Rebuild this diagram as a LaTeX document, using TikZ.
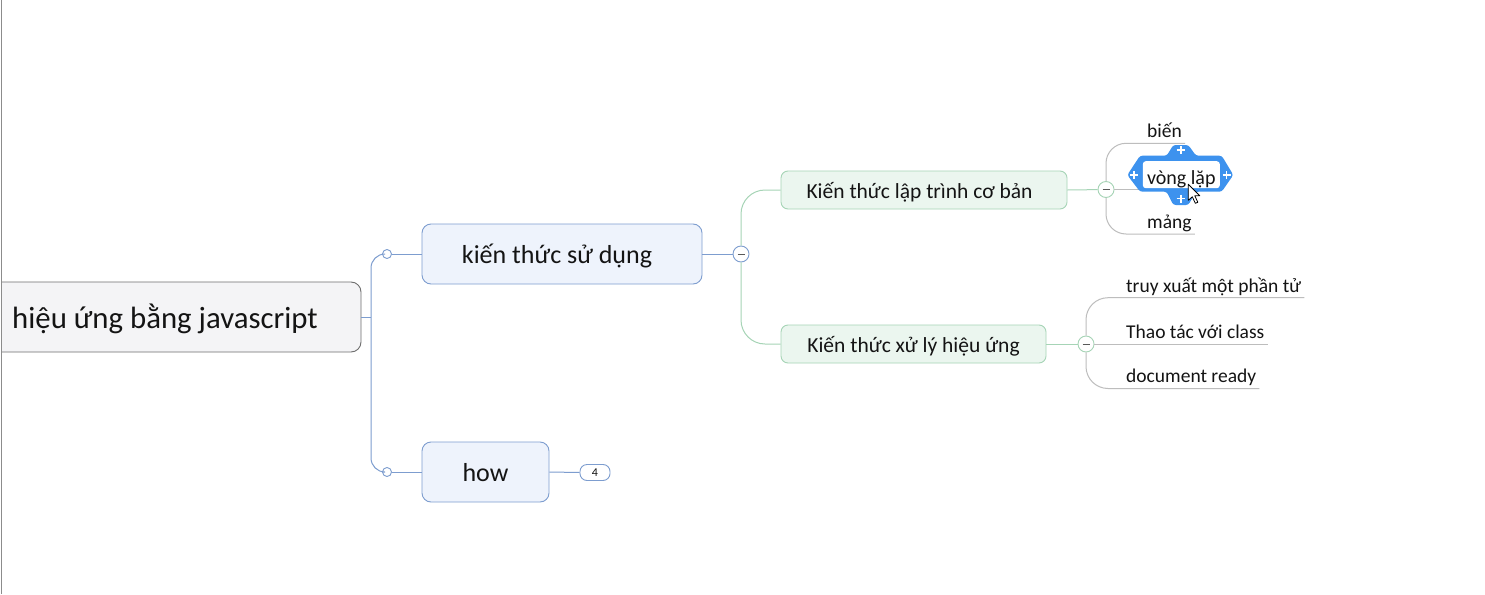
\documentclass[tikz,border=0pt]{standalone}
\usepackage{fontspec}
\setmainfont{Carlito}
\definecolor{txt}{HTML}{141414}
\definecolor{rootline}{HTML}{6E6E6E}
\definecolor{rootfill}{HTML}{F4F4F6}
\definecolor{blueline}{HTML}{7D9DCF}
\definecolor{bluefill}{HTML}{EEF3FC}
\definecolor{greenline}{HTML}{A6D4B6}
\definecolor{greenfill}{HTML}{EBF6EF}
\definecolor{grayline}{HTML}{BDBDBD}
\definecolor{selblue}{HTML}{3D92EE}
\definecolor{frame}{HTML}{8C8C8C}
\begin{document}
\begin{tikzpicture}[x=1pt,y=-1pt,
  rootbox/.style={draw=rootline, fill=rootfill, rounded corners=10pt, line width=0.9pt,
    minimum width=392pt, minimum height=70pt, font=\fontsize{30.8}{37}\selectfont, text=txt,
    text height=25.7pt, text depth=2.5pt, inner ysep=1pt},
  mainbox/.style={draw=blueline, fill=bluefill, rounded corners=9pt, line width=0.9pt,
    minimum height=60pt, font=\fontsize{26}{31}\selectfont, text=txt,
    text height=21.7pt, text depth=2.5pt, inner ysep=1pt},
  subbox/.style={draw=greenline, fill=greenfill, rounded corners=7pt, line width=0.9pt,
    minimum height=38pt, font=\fontsize{21.5}{26}\selectfont, text=txt,
    text height=19.7pt, text depth=2.5pt, inner ysep=1pt},
  leaf/.style={anchor=south west, inner xsep=3pt, inner ysep=1pt, text height=14pt,
    text depth=4.5pt, font=\fontsize{19.5}{23}\selectfont, text=txt},
  knob/.style={circle, fill=white, minimum size=16pt, inner sep=0pt, line width=0.9pt},
  dot/.style={circle, draw=blueline, fill=white, minimum size=9pt, inner sep=0pt, line width=0.9pt},
  badge/.style={draw=blueline, fill=white, rounded corners=7pt, line width=0.9pt,
    minimum width=30pt, minimum height=16pt, inner sep=0pt, font=\fontsize{12}{14}\selectfont, text=txt},
  blueconn/.style={draw=blueline, line width=1pt},
  greenconn/.style={draw=greenline, line width=1pt},
  grayconn/.style={draw=grayline, line width=1pt},
  minus/.style={draw=black!65, line width=1pt},
  plus/.style={draw=white, line width=1.8pt}]
\useasboundingbox[fill=white] (0,0) rectangle (1485,594);

% root (cut by the frame on the left)
\begin{scope}
  \clip (2,0) rectangle (1485,594);
  \node[rootbox] (root) at (165,317) {hiệu ứng bằng javascript};
\end{scope}
\draw[frame, line width=1.6pt] (1.5,0) -- (1.5,594);

% main topics
\node[mainbox, minimum width=280pt] (k) at (562,254) {\hspace*{-10pt}kiến thức sử dụng};
\node[mainbox, minimum width=127pt] (h) at (485.5,472) {how};
\node[dot] (d1) at (387,254) {};
\node[dot] (d2) at (387,472) {};
\coordinate (t) at (371,317);
\draw[blueconn] (root.east) -- (t);
\draw[blueconn, rounded corners=14pt] (d1) -| (t) |- (d2);
\draw[blueconn] (d1) -- (k.west);
\draw[blueconn] (d2) -- (h.west);

\node[badge] (b4) at (595,472.5) {4};
\draw[blueconn] (h.east) -- (b4.west);

% sub topics
\node[subbox, minimum width=286pt] (g1) at (924,190) {\hspace*{-9pt}Kiến thức lập trình cơ bản};
\node[subbox, minimum width=265pt] (g2) at (913.5,344) {Kiến thức xử lý hiệu ứng};
\node[knob, draw=blueline] (cm1) at (741,254) {};
\draw[blueconn] (k.east) -- (cm1);
\draw[greenconn, rounded corners=24pt] (g1.west) -| (cm1);
\draw[greenconn, rounded corners=24pt] (g2.west) -| (cm1);

% leaves of group 1
\node[knob, draw=greenline] (cm2) at (1106,189.5) {};
\draw[greenconn] (g1.east) -- (cm2);
\node[leaf] (bien) at (1144,143.3) {biến};
\node[leaf] (mang) at (1144,234) {mảng};
\draw[grayconn, rounded corners=20pt] (cm2) |- (bien.south east);
\draw[grayconn, rounded corners=20pt] (cm2) |- (mang.south east);
\coordinate (vm) at (1150,189.5);
\draw[grayconn] (cm2) -- (vm);

% selection around "vòng lặp"
\fill[selblue, rounded corners=2.5pt] (1127.3,175) -- (1140,155.7) -- (1166.7,155.7) -- (1173.3,145)
  -- (1188.3,145) -- (1196,155.7) -- (1221.7,155.7) -- (1233.3,175) -- (1221.7,191.7)
  -- (1196,191.7) -- (1188.3,205) -- (1173.3,205) -- (1166.7,191.7) -- (1140,191.7) -- cycle;
\node[fill=white, rounded corners=3pt, minimum width=77pt, minimum height=27pt, inner sep=0pt,
  font=\fontsize{20}{24}\selectfont, text=txt, text height=19.1pt, text depth=0pt]
  (vong) at (1181.3,174.7) {vòng lặp};
\foreach \px/\py in {1180.7/150, 1180.7/198.5, 1134/175, 1226.5/175}{
  \draw[plus] (\px-4,\py) -- (\px+4,\py);
  \draw[plus] (\px,\py-4) -- (\px,\py+4);
}
% mouse pointer
\draw[fill=white, draw=black, line width=0.8pt, line join=round] (1188.3,184.3) -- ++(0,16)
  -- ++(4,-3.5) -- ++(3,6.5) -- ++(2.5,-1) -- ++(-3,-6.5) -- ++(5,0) -- cycle;

% leaves of group 2
\node[knob, draw=greenline] (cm3) at (1086,344) {};
\draw[greenconn] (g2.east) -- (cm3);
\node[leaf] (l1) at (1123,297.7) {truy xuất một phần tử};
\node[leaf] (l2) at (1123,344) {Thao tác với class};
\node[leaf] (l3) at (1123,388.5) {document ready};
\draw[grayconn, rounded corners=22pt] (cm3) |- (l1.south east);
\draw[grayconn] (cm3) -- (l2.south east);
\draw[grayconn, rounded corners=22pt] (cm3) |- (l3.south east);

% minus signs on collapse knobs
\foreach \kk in {cm1,cm2,cm3}{
  \draw[minus] ([xshift=-3.5pt]\kk.center) -- ([xshift=3.5pt]\kk.center);
}
\end{tikzpicture}
\end{document}
